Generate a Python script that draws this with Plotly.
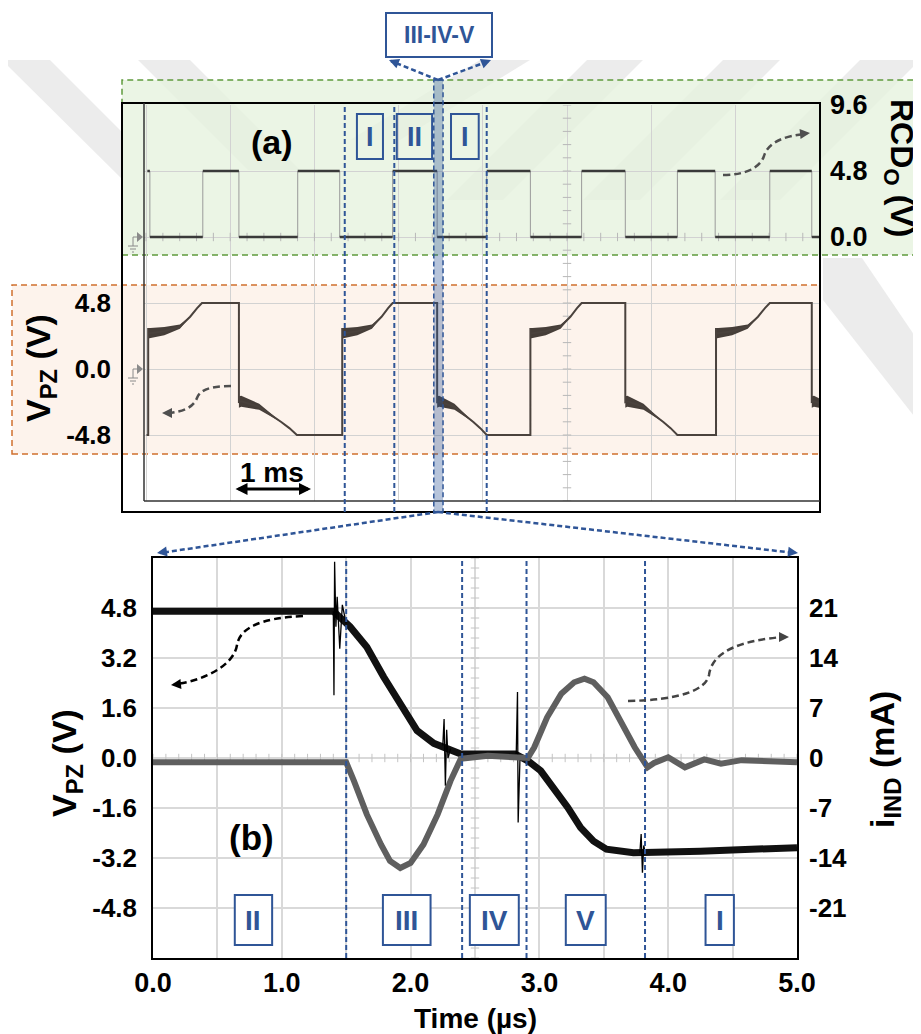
import numpy as np
import plotly.graph_objects as go

# the page body has an 8 px margin, so the figure is drawn 8 px smaller and
# every layout position below is given in reference pixels
OFF = 8
W, H = 921 - OFF, 1034 - OFF
BLUE = "#2f5597"
FONT = "Liberation Sans, Arial, sans-serif"

# ---------------- (a) scope capture, time in ms ----------------
rcd_high_on = [0.04, 0.70, 1.83, 2.96, 4.08, 5.21, 6.35, 7.45]
rcd_high_off = [0.07, 1.13, 2.33, 3.49, 4.60, 5.73, 6.80, 7.95]
rcd_low, rcd_high = 0.0, 4.8

vpz_rise = [0.05, 2.36, 4.60, 6.81]
vpz_peak = [0.69, 2.96, 5.21, 7.45]
vpz_fall = [1.13, 3.49, 5.73, 7.95]
vpz_floor = [1.82, 4.08, 6.35, 8.60]
vpz_rail = 4.8

# ramp shapes after each edge (fraction of ramp time, volts, ripple half width)
rise_frac = [0.0, 0.04, 0.30, 0.59, 0.78, 0.91, 1.0]
rise_v = [2.60, 2.60, 2.75, 3.08, 3.80, 4.43, 4.80]
rise_ripple = [0.38, 0.38, 0.30, 0.15, 0.04, 0.0, 0.0]
fall_frac = [0.0, 0.04, 0.35, 0.73, 0.87, 1.0]
fall_v = [-2.40, -2.35, -2.75, -3.85, -4.30, -4.80]
fall_ripple = [0.42, 0.40, 0.22, 0.03, 0.0, 0.0]

# scope graticule: first division line and division width (ms)
div0, div_w = 0.024, 1.0024

top_edges = [2.39, 2.98, 4.08]
top_names = ["I", "II", "I"]
top_pos = [2.69, 3.22, 3.82]
top_box_w = [0.31, 0.42, 0.33]
zoom_band = [3.45, 3.56]

rcd_ticks = [-14.4, -9.6, -4.8, 0.0, 4.8, 9.6]
rcd_labels = ["", "", "", "0.0", "4.8", "9.6"]
vpz_a_ticks = [-4.8, 0.0, 4.8]
vpz_a_labels = ["-4.8", "0.0", "4.8"]

# ---------------- (b) zoom on the switching event, time in us ----------------
vpz_t = [0.00, 1.40, 1.53, 1.66, 1.79, 1.92, 2.05, 2.18, 2.26, 2.39, 2.81,
         2.91, 3.01, 3.11, 3.22, 3.32, 3.42, 3.52, 3.73, 4.25, 5.00]
vpz_v = [4.70, 4.70, 4.20, 3.55, 2.60, 1.73, 0.88, 0.47, 0.34, 0.13, 0.13,
         -0.09, -0.41, -0.94, -1.58, -2.23, -2.66, -2.92, -3.03, -2.98, -2.87]

spike_t = [1.40, 1.405, 1.41, 1.42, 1.43, 1.44, 1.45, 1.47, 1.50, None,
           2.25, 2.26, 2.27, 2.28, 2.29, 2.31, None,
           2.82, 2.83, 2.835, 2.85, None,
           3.78, 3.79, 3.80, 3.81, 3.82]
spike_v = [4.70, 2.01, 6.28, 4.20, 5.16, 4.00, 3.50, 4.90, 4.30, None,
           0.40, 1.25, -0.89, 0.90, 0.00, 0.30, None,
           0.13, 2.11, -2.06, 0.10, None,
           -3.03, -2.43, -3.67, -2.80, -3.00]

iind_t = [0.00, 1.50, 1.56, 1.66, 1.77, 1.84, 1.92, 2.00, 2.10, 2.21, 2.31, 2.39,
          2.60, 2.91, 2.96, 3.06, 3.17, 3.27, 3.35, 3.42, 3.53, 3.63, 3.74, 3.84,
          3.89, 4.00, 4.13, 4.28, 4.41, 4.57, 4.83, 5.00]
iind_v = [-0.6, -0.6, -3.2, -7.9, -12.1, -14.4, -15.4, -14.7, -12.1, -7.9, -3.2, -0.1,
          0.3, 0.0, 1.5, 5.7, 9.0, 10.6, 11.1, 10.6, 8.5, 5.25, 1.5, -1.3,
          -0.7, 0.1, -1.3, -0.2, -0.8, -0.3, -0.4, -0.6]

phase_edges = [1.50, 2.40, 2.90, 3.82]
phase_names = ["II", "III", "IV", "V", "I"]
phase_pos = [0.78, 1.97, 2.65, 3.36, 4.40]
phase_box_w = [0.29, 0.37, 0.38, 0.31, 0.22]

vpz_b_ticks = [-4.8, -3.2, -1.6, 0.0, 1.6, 3.2, 4.8]
iind_ticks = [-21, -14, -7, 0, 7, 14, 21]


def X(p):
    return (p - OFF) / W


def Y(p):
    return 1 - (p - OFF) / H


def pt(p):
    return f"{X(p[0]):.5f},{Y(p[1]):.5f}"


def poly(points):
    return "M " + " L ".join(pt(p) for p in points) + " Z"


def curve(start, *segs):
    s = "M " + pt(start)
    for seg in segs:
        s += " C " + " ".join(pt(p) for p in seg)
    return s


fig = go.Figure()

# ---- scope centre axis tick marks ----
fig.add_trace(go.Scatter(x=div0 + np.arange(-1, 40) * div_w / 5, y=np.zeros(41), xaxis="x", yaxis="y",
                         mode="markers", hoverinfo="skip",
                         marker=dict(symbol="line-ns-open", size=6, color="#b8b8b8", line=dict(width=1))))
fig.add_trace(go.Scatter(x=np.full(31, div0 + 5 * div_w), y=np.arange(-20, 11) * 0.96, xaxis="x", yaxis="y",
                         mode="markers", hoverinfo="skip",
                         marker=dict(symbol="line-ew-open", size=6, color="#b8b8b8", line=dict(width=1))))

# ---- RCD output ----
edge_t, edge_v = [], []
for i, (a, b) in enumerate(zip(rcd_high_on, rcd_high_off)):
    if i > 0:
        edge_t += [a, a, None]
        edge_v += [rcd_low, rcd_high, None]
    edge_t += [b, b, None]
    edge_v += [rcd_high, rcd_low, None]
fig.add_trace(go.Scatter(x=edge_t, y=edge_v, xaxis="x", yaxis="y", mode="lines",
                         line=dict(color="#9a9a9a", width=1)))

lvl_t, lvl_v = [], []
low_end = rcd_high_on[1:] + [8.2]
for a, b in zip(rcd_high_on, rcd_high_off):
    lvl_t += [a, b, None]
    lvl_v += [rcd_high, rcd_high, None]
for a, b in zip(rcd_high_off, low_end):
    lvl_t += [a, b, None]
    lvl_v += [rcd_low, rcd_low, None]
fig.add_trace(go.Scatter(x=lvl_t, y=lvl_v, xaxis="x", yaxis="y", mode="lines",
                         line=dict(color="#3a3a3a", width=2.5)))

# ---- V_PZ on the scope ----
wt, wv = [0.03], [-vpz_rail]
band_t, band_v = [], []
for r, p, f, fl in zip(vpz_rise, vpz_peak, vpz_fall, vpz_floor):
    wt += [r, r]
    wv += [-vpz_rail, rise_v[0] + rise_ripple[0]]
    rt = [r + k * (p - r) for k in rise_frac]
    wt += rt
    wv += rise_v
    band_t += rt + rt[::-1] + [None]
    band_v += [v + h for v, h in zip(rise_v, rise_ripple)] + \
              [v - h for v, h in zip(rise_v, rise_ripple)][::-1] + [None]
    wt += [f, f]
    wv += [vpz_rail, fall_v[0] + fall_ripple[0]]
    ft = [f + k * (fl - f) for k in fall_frac]
    wt += ft
    wv += fall_v
    band_t += ft + ft[::-1] + [None]
    band_v += [v + h for v, h in zip(fall_v, fall_ripple)] + \
              [v - h for v, h in zip(fall_v, fall_ripple)][::-1] + [None]

fig.add_trace(go.Scatter(x=band_t, y=band_v, xaxis="x", yaxis="y2", mode="lines",
                         fill="toself", fillcolor="#463e39", line=dict(width=0)))
fig.add_trace(go.Scatter(x=wt, y=wv, xaxis="x", yaxis="y2", mode="lines",
                         line=dict(color="#4a423d", width=2)))

# ---- panel (b) ----
fig.add_trace(go.Scatter(x=np.arange(51) * 0.1, y=np.zeros(51), xaxis="x2", yaxis="y3",
                         mode="markers", hoverinfo="skip",
                         marker=dict(symbol="line-ns-open", size=6, color="#c4c4c4", line=dict(width=1))))
fig.add_trace(go.Scatter(x=np.full(41, 2.5), y=np.arange(-20, 21) * 0.32, xaxis="x2", yaxis="y3",
                         mode="markers", hoverinfo="skip",
                         marker=dict(symbol="line-ew-open", size=6, color="#c4c4c4", line=dict(width=1))))

fig.add_trace(go.Scatter(x=iind_t, y=iind_v, xaxis="x2", yaxis="y4", mode="lines",
                         line=dict(color="#5f5f5f", width=6)))
fig.add_trace(go.Scatter(x=vpz_t, y=vpz_v, xaxis="x2", yaxis="y3", mode="lines",
                         line=dict(color="#111111", width=7)))
fig.add_trace(go.Scatter(x=spike_t, y=spike_v, xaxis="x2", yaxis="y3", mode="lines",
                         line=dict(color="black", width=1.3)))

# ---------------- decorations ----------------
shapes = []
WM = "rgba(185,185,185,0.28)"
watermark = [
    [(8, 60), (50, 60), (122, 132), (122, 179), (8, 66)],
    [(138, 60), (190, 60), (300, 170), (248, 170)],
    [(480, 60), (530, 60), (400, 140), (350, 140)],
    [(587, 60), (643, 60), (503, 200), (447, 200)],
    [(723, 60), (780, 60), (640, 200), (583, 200)],
    [(860, 60), (920, 60), (780, 200), (720, 200)],
    [(823, 258), (862, 258), (921, 345), (921, 425), (823, 300)],
]
for wpoly in watermark:
    shapes.append(dict(type="path", xref="paper", yref="paper", path=poly(wpoly),
                       fillcolor=WM, line=dict(width=0), layer="below"))

# green / orange highlight boxes
shapes.append(dict(type="rect", xref="paper", yref="paper", x0=X(122), x1=1.01, y0=Y(255), y1=Y(80),
                   fillcolor="rgba(230,242,222,0.78)", line=dict(color="#5f9a3c", width=1.5, dash="6px,4px"),
                   layer="below"))
shapes.append(dict(type="rect", xref="paper", yref="paper", x0=X(12), x1=X(820), y0=Y(454), y1=Y(285),
                   fillcolor="rgba(252,236,226,0.65)", line=dict(color="#d0702e", width=1.5, dash="6px,4px"),
                   layer="below"))

# scope frame
shapes.append(dict(type="rect", xref="paper", yref="paper", x0=X(122), x1=X(820), y0=Y(512), y1=Y(103),
                   line=dict(color="black", width=2)))
shapes.append(dict(type="line", xref="paper", yref="paper", x0=X(144), x1=X(144), y0=Y(501), y1=Y(103),
                   line=dict(color="#333333", width=1.5)))
shapes.append(dict(type="line", xref="paper", yref="paper", x0=X(144), x1=X(820), y0=Y(501), y1=Y(501),
                   line=dict(color="#333333", width=1.5)))

# ground markers of the two scope channels
for gy in (237, 369):
    shapes.append(dict(type="path", xref="paper", yref="paper",
                       path=poly([(137, gy - 5), (143, gy), (137, gy + 5)]),
                       fillcolor="#8a8a8a", line=dict(width=0)))
    for seg in [((133, gy), (138, gy)), ((133, gy), (133, gy + 9)), ((128, gy + 9), (138, gy + 9)),
                ((130, gy + 12), (136, gy + 12)), ((132, gy + 15), (134, gy + 15))]:
        shapes.append(dict(type="line", xref="paper", yref="paper",
                           x0=X(seg[0][0]), y0=Y(seg[0][1]), x1=X(seg[1][0]), y1=Y(seg[1][1]),
                           line=dict(color="#8a8a8a", width=1)))

# phase markers in (a)
for e in top_edges:
    shapes.append(dict(type="line", xref="x", yref="paper", x0=e, x1=e, y0=Y(512), y1=Y(105),
                       line=dict(color=BLUE, width=2, dash="5px,3px")))
shapes.append(dict(type="rect", xref="x", yref="paper", x0=zoom_band[0], x1=zoom_band[1],
                   y0=Y(512), y1=Y(80), fillcolor="rgba(47,85,151,0.35)",
                   line=dict(color=BLUE, width=1.5, dash="5px,3px")))
for c, w in zip(top_pos, top_box_w):
    shapes.append(dict(type="rect", xref="x", yref="y", x0=c - w / 2, x1=c + w / 2, y0=5.67, y1=8.95,
                       line=dict(color=BLUE, width=2)))

# III-IV-V label box and zoom connectors
shapes.append(dict(type="rect", xref="paper", yref="paper", x0=X(386), x1=X(492), y0=Y(57), y1=Y(13),
                   fillcolor="white", line=dict(color=BLUE, width=2)))
for a, b in [((438, 80), (391, 61)), ((438, 80), (489, 61)),
             ((438, 512), (160, 553)), ((438, 512), (795, 553))]:
    shapes.append(dict(type="line", xref="paper", yref="paper", x0=X(a[0]), y0=Y(a[1]),
                       x1=X(b[0]), y1=Y(b[1]), line=dict(color=BLUE, width=2.5, dash="5px,3px")))

# phase markers in (b)
for e in phase_edges:
    shapes.append(dict(type="line", xref="x2", yref="y3", x0=e, x1=e, y0=-6.4, y1=6.4,
                       line=dict(color=BLUE, width=2, dash="5px,3px")))
for c, w in zip(phase_pos, phase_box_w):
    shapes.append(dict(type="rect", xref="x2", yref="y3", x0=c - w / 2, x1=c + w / 2, y0=-5.98, y1=-4.38,
                       fillcolor="white", line=dict(color=BLUE, width=2)))

# dashed curved pointers to the axes
GREY = "#4f4f4f"
pointers = [
    (curve((723, 175), [(745, 175), (760, 168), (764, 156)], [(768, 142), (785, 136), (804, 134)]), GREY),
    (curve((231, 386), [(210, 386), (200, 390), (197, 398)], [(193, 408), (182, 412), (168, 413)]), GREY),
    (curve((303, 616), [(260, 618), (240, 628), (237, 645)], [(234, 665), (205, 680), (177, 684)]), "black"),
    (curve((628, 701), [(680, 700), (706, 690), (709, 675)], [(712, 650), (745, 640), (783, 637)]), "#444444"),
]
for pth, col in pointers:
    shapes.append(dict(type="path", xref="paper", yref="paper", path=pth,
                       line=dict(color=col, width=2.5, dash="7px,4px")))

ann = []


def head(tip, ax, ay, color, width=2):
    ann.append(dict(xref="paper", yref="paper", x=X(tip[0]), y=Y(tip[1]), ax=ax, ay=ay,
                    text="", showarrow=True, arrowhead=2, arrowsize=1, arrowwidth=width,
                    arrowcolor=color))


head((810, 133), -10, 1, GREY)
head((162, 413), 10, 0, GREY)
head((171, 685), 10, -1, "black")
head((789, 637), -10, 0, "#444444")
head((389, 60), 10, 4, BLUE)
head((491, 60), -10, 4, BLUE)
head((157, 553), 10, -1.5, BLUE)
head((798, 553), -10, -1.2, BLUE)

# 1 ms scale bar
ann.append(dict(xref="paper", yref="paper", x=X(311), y=Y(489), ax=-77, ay=0, text="",
                showarrow=True, arrowhead=2, arrowside="end+start", arrowsize=0.8,
                arrowwidth=3, arrowcolor="black"))


def label(x, y, text, size, color="black", angle=0):
    ann.append(dict(xref="paper", yref="paper", x=X(x), y=Y(y), text=text, showarrow=False,
                    textangle=angle, xanchor="center", yanchor="middle",
                    font=dict(size=size, color=color, family=FONT)))


label(272, 142, "<b>(a)</b>", 34)
label(272, 472, "<b>1 ms</b>", 28)
label(40, 368, "<b>V<sub>PZ</sub> (V)</b>", 34, angle=-90)
label(900, 168, "<b>RCD<sub>O</sub> (V)</b>", 32, angle=90)
label(439, 35, "<b>III-IV-V</b>", 23, BLUE)
for c, n in zip(top_pos, top_names):
    label(144 + c * 84, 137, f"<b>{n}</b>", 27, BLUE)

label(66, 763, "<b>V<sub>PZ</sub> (V)</b>", 34, angle=-90)
label(884, 760, "<b>i<sub>IND</sub> (mA)</b>", 34, angle=-90)
label(476, 1018, "<b>Time (µs)</b>", 28)
label(251, 837, "<b>(b)</b>", 35)
for c, n in zip(phase_pos, phase_names):
    label(153 + c * 128.8, 920, f"<b>{n}</b>", 28, BLUE)

GRID_A = "#d2d2d2"
GRID_B = "#d9d9d9"
TICK_A = dict(size=26, family=FONT, color="black", weight="bold")
TICK_B = dict(size=26, family=FONT, color="black", weight="bold")

fig.update_layout(
    width=W, height=H, margin=dict(l=0, r=0, t=0, b=0, pad=0),
    paper_bgcolor="white", plot_bgcolor="rgba(0,0,0,0)", showlegend=False,
    font=dict(family=FONT, color="black"),
    shapes=shapes, annotations=ann,
    xaxis=dict(domain=[X(144), X(819)], range=[0, 8.036], anchor="y", tick0=div0, dtick=div_w,
               showgrid=True, gridcolor=GRID_A, gridwidth=1, showticklabels=False, ticks="",
               zeroline=False, showline=False, automargin=False),
    yaxis=dict(domain=[Y(501), Y(105)], range=[-19.2, 9.6], anchor="x", side="right",
               tickvals=rcd_ticks, ticktext=rcd_labels, showgrid=True, gridcolor=GRID_A,
               zeroline=False, ticks="", ticklabelstandoff=10, tickfont=dict(TICK_A, size=27),
               automargin=False),
    yaxis2=dict(overlaying="y", anchor="x", side="left", range=[-9.6, 19.2],
                tickvals=vpz_a_ticks, ticktext=vpz_a_labels, showgrid=False, zeroline=False,
                ticks="", ticklabelstandoff=32, tickfont=TICK_A, automargin=False),
    xaxis2=dict(domain=[X(153), X(797)], range=[0, 5], anchor="y3", tick0=0, dtick=1,
                tickformat=".1f", showgrid=True, gridcolor=GRID_B, gridwidth=1.5,
                minor=dict(dtick=0.5, tick0=0, showgrid=True, gridcolor=GRID_B, gridwidth=1.5),
                showline=True, mirror=True, linecolor="black", linewidth=1.5, ticks="",
                zeroline=False, ticklabelstandoff=0, tickfont=dict(TICK_B, size=27), automargin=False),
    yaxis3=dict(domain=[Y(958), Y(558)], range=[-6.4, 6.4], anchor="x2",
                tickvals=vpz_b_ticks, ticktext=[f"{v:.1f}" for v in vpz_b_ticks],
                showgrid=True, gridcolor=GRID_B, gridwidth=1.5, showline=True, mirror=True,
                linecolor="black", linewidth=1.5, zeroline=False, ticks="",
                ticklabelstandoff=9, tickfont=TICK_B, automargin=False),
    yaxis4=dict(overlaying="y3", anchor="x2", side="right", range=[-28, 28],
                tickvals=iind_ticks, ticktext=[str(v) for v in iind_ticks], showgrid=False,
                zeroline=False, ticks="", ticklabelstandoff=11, tickfont=TICK_B, automargin=False),
)

fig.write_html("out.html")
